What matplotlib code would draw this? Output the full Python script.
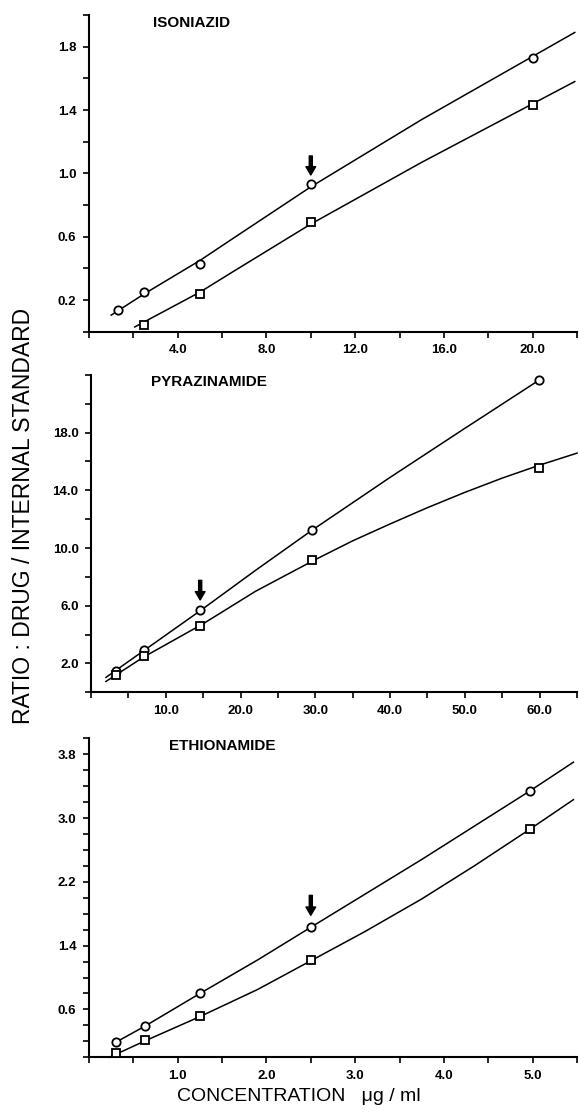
import numpy as np
import matplotlib
matplotlib.use("Agg")
import matplotlib.pyplot as plt

plt.rcParams['font.family'] = ['Liberation Sans', 'DejaVu Sans']

# ---- ISONIAZID ----
iso_x = [1.3, 2.5, 5.0, 10.0, 20.0]
iso_circle = [0.14, 0.25, 0.43, 0.93, 1.73]
iso_sq_x = [2.5, 5.0, 10.0, 20.0]
iso_square = [0.045, 0.236, 0.69, 1.43]
iso_circ_curve_x = [1.0, 2.5, 5.0, 6.5, 10.0, 15.0, 21.9]
iso_circ_curve_y = [0.105, 0.24, 0.45, 0.59, 0.915, 1.34, 1.89]
iso_sq_curve_x = [2.06, 5.0, 6.5, 10.0, 15.0, 21.9]
iso_sq_curve_y = [0.03, 0.25, 0.38, 0.68, 1.07, 1.58]

# ---- PYRAZINAMIDE ----
pyr_x = [3.4, 7.1, 14.6, 29.6, 59.9]
pyr_circle = [1.44, 2.92, 5.68, 11.28, 21.65]
pyr_square = [1.19, 2.52, 4.6, 9.16, 15.56]
pyr_circ_curve_x = [2.0, 7.1, 14.6, 22.0, 29.6, 40.0, 50.0, 59.8]
pyr_circ_curve_y = [1.03, 2.9, 5.65, 8.45, 11.25, 14.9, 18.3, 21.6]
pyr_sq_curve_x = [2.0, 7.0, 15.0, 22.0, 30.0, 35.0, 40.0, 45.0, 50.0, 55.0, 60.0, 65.0]
pyr_sq_curve_y = [0.75, 2.43, 4.75, 7.0, 9.2, 10.5, 11.67, 12.8, 13.86, 14.85, 15.75, 16.58]

# ---- ETHIONAMIDE ----
eth_x = [0.31, 0.63, 1.25, 2.5, 4.97]
eth_circle = [0.19, 0.39, 0.80, 1.63, 3.34]
eth_square = [0.06, 0.215, 0.515, 1.22, 2.86]
eth_circ_curve_x = [0.28, 0.63, 1.25, 1.9, 2.5, 3.75, 4.97, 5.46]
eth_circ_curve_y = [0.175, 0.39, 0.80, 1.22, 1.63, 2.48, 3.34, 3.70]
eth_sq_curve_x = [0.23, 0.63, 1.25, 1.9, 2.5, 3.1, 3.75, 4.35, 4.97, 5.46]
eth_sq_curve_y = [0.0, 0.205, 0.51, 0.85, 1.21, 1.57, 1.985, 2.405, 2.86, 3.23]

panels = [
    dict(name='ISONIAZID', rect=[0.1537, 0.7022, 0.8428, 0.2843],
         cx=iso_x, cy=iso_circle, sx=iso_sq_x, sy=iso_square,
         ccx=iso_circ_curve_x, ccy=iso_circ_curve_y,
         scx=iso_sq_curve_x, scy=iso_sq_curve_y,
         xlim=(0, 22), ylim=(0, 2.0),
         xmaj=[4, 8, 12, 16, 20], xmin=[0, 2, 6, 10, 14, 18, 22],
         ymaj=[0.2, 0.6, 1.0, 1.4, 1.8], ymin=[0, 0.4, 0.8, 1.2, 1.6, 2.0],
         arrow=(10.0, 1.11, 0.99), title_pos=(0.131, 0.974)),
    dict(name='PYRAZINAMIDE', rect=[0.1572, 0.3786, 0.8394, 0.2848],
         cx=pyr_x, cy=pyr_circle, sx=pyr_x, sy=pyr_square,
         ccx=pyr_circ_curve_x, ccy=pyr_circ_curve_y,
         scx=pyr_sq_curve_x, scy=pyr_sq_curve_y,
         xlim=(0, 65), ylim=(0, 22),
         xmaj=[10, 20, 30, 40, 50, 60], xmin=[0, 5, 15, 25, 35, 45, 55, 65],
         ymaj=[2, 6, 10, 14, 18], ymin=[0, 4, 8, 12, 16, 20, 22],
         arrow=(14.6, 7.76, 6.4), title_pos=(0.124, 0.977)),
    dict(name='ETHIONAMIDE', rect=[0.1537, 0.0509, 0.8428, 0.2864],
         cx=eth_x, cy=eth_circle, sx=eth_x, sy=eth_square,
         ccx=eth_circ_curve_x, ccy=eth_circ_curve_y,
         scx=eth_sq_curve_x, scy=eth_sq_curve_y,
         xlim=(0, 5.5), ylim=(0, 4.0),
         xmaj=[1, 2, 3, 4, 5], xmin=[0, 0.5, 1.5, 2.5, 3.5, 4.5, 5.5],
         ymaj=[0.6, 1.4, 2.2, 3.0, 3.8],
         ymin=[0, 0.2, 0.4, 0.8, 1.0, 1.2, 1.6, 1.8, 2.0, 2.4, 2.6, 2.8,
               3.2, 3.4, 3.6, 4.0],
         arrow=(2.5, 2.03, 1.78), title_pos=(0.164, 0.976)),
]

fig = plt.figure(figsize=(5.79, 11.14), dpi=100)

for p in panels:
    ax = fig.add_axes(p['rect'])
    ax.plot(p['ccx'], p['ccy'], color='black', lw=1.1, zorder=2)
    ax.plot(p['scx'], p['scy'], color='black', lw=1.1, zorder=2)
    ax.plot(p['cx'], p['cy'], 'o', ms=6, mfc='white', mec='black', mew=1.3, zorder=3)
    ax.plot(p['sx'], p['sy'], 's', ms=6, mfc='white', mec='black', mew=1.3, zorder=3)

    x, y0, y1 = p['arrow']
    ax.annotate('', xy=(x, y1), xytext=(x, y0),
                arrowprops=dict(facecolor='black', edgecolor='black',
                                width=2.2, headwidth=7, headlength=6, shrink=0))

    ax.set_xlim(*p['xlim'])
    ax.set_ylim(*p['ylim'])
    ax.set_xticks(p['xmaj'])
    ax.set_xticklabels(['%.1f' % v for v in p['xmaj']])
    ax.set_xticks(p['xmin'], minor=True)
    ax.set_yticks(p['ymaj'])
    ax.set_yticklabels(['%.1f' % v for v in p['ymaj']])
    ax.set_yticks(p['ymin'], minor=True)
    ax.tick_params(which='both', direction='out', length=4.5, width=1.2,
                   labelsize=9.5, pad=4.5)
    for lab in ax.get_xticklabels() + ax.get_yticklabels():
        lab.set_fontweight('bold')
    for s in ['top', 'right']:
        ax.spines[s].set_visible(False)
    for s in ['left', 'bottom']:
        ax.spines[s].set_linewidth(1.5)
    ax.patch.set_alpha(0)
    ax.text(p['title_pos'][0], p['title_pos'][1], p['name'],
            transform=ax.transAxes, fontsize=11, fontweight='bold',
            ha='left', va='center')
    for line in ax.lines:
        line.set_clip_on(False)

fig.text(0.040, 0.537, 'RATIO : DRUG / INTERNAL STANDARD', rotation=90,
         fontsize=16.5, ha='center', va='center')
fig.text(0.516, 0.008, 'CONCENTRATION   \u03bcg / ml', fontsize=14,
         ha='center', va='bottom')

fig.savefig('out.png', dpi=100)
